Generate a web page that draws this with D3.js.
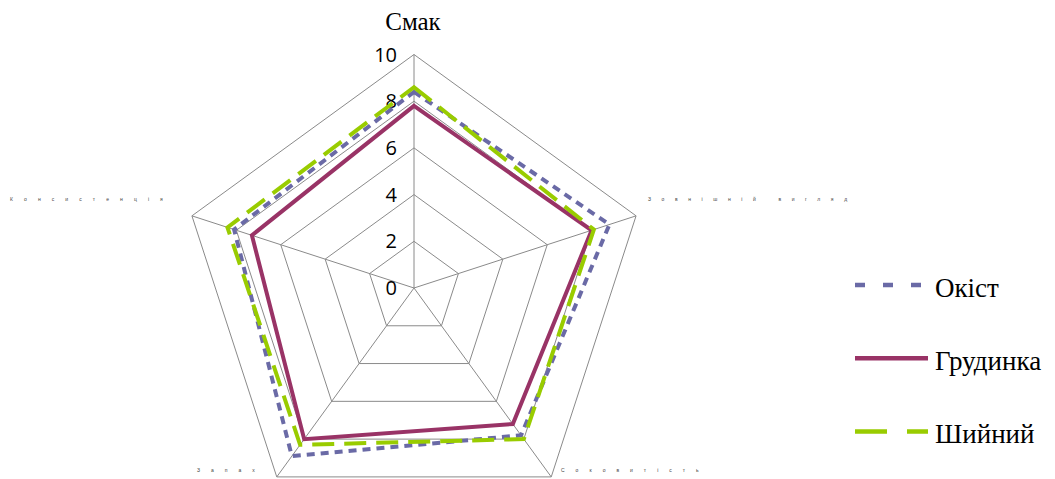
<!DOCTYPE html>
<html>
<head>
<meta charset="utf-8">
<script src="https://cdn.jsdelivr.net/npm/d3@7"></script>
<style>
  html, body { margin: 0; padding: 0; background: #fff; }
  svg { display: block; }
</style>
</head>
<body>
<svg id="chart" width="1055" height="479"></svg>
<script>
// Sensory scores for three pork cuts
const axes = ["Смак", "Зовнішній вигляд", "Соковитість", "Запах", "Консистенція"];
const okist = [8.4, 8.8, 7.8, 8.9, 8.1];
const grudynka = [7.8, 8.0, 7.2, 8.0, 7.3];
const shyinyi = [8.6, 8.1, 8.0, 8.3, 8.4];
const seriesNames = ["Окіст", "Грудинка", "Шийний"];
const tickValues = [0, 2, 4, 6, 8, 10];

const series = [
  { name: seriesNames[0], values: okist, color: "#6a6aa6", dash: "8,6", legendDash: "10,18" },
  { name: seriesNames[1], values: grudynka, color: "#993366", dash: null, legendDash: null },
  { name: seriesNames[2], values: shyinyi, color: "#99cc00", dash: "22,10", legendDash: "32,20" }
];

const svg = d3.select("#chart");
const cx = 414, cy = 288;
const r = d3.scaleLinear().domain([0, 10]).range([0, 233.5]);
const angle = d3.scaleLinear().domain([0, axes.length]).range([0, 2 * Math.PI]);

const pt = (i, v) => {
  const a = angle(i);
  return [cx + r(v) * Math.sin(a), cy - r(v) * Math.cos(a)];
};

// Grid rings
const grid = svg.append("g");
tickValues.filter(t => t > 0).forEach(t => {
  grid.append("path")
    .attr("d", d3.line()(axes.map((_, i) => pt(i, t))) + "Z")
    .attr("fill", "none").attr("stroke", "#8a8a8a").attr("stroke-width", 1);
});
// Spokes
axes.forEach((_, i) => {
  const [x, y] = pt(i, 10);
  grid.append("line").attr("x1", cx).attr("y1", cy).attr("x2", x).attr("y2", y)
    .attr("stroke", "#8a8a8a").attr("stroke-width", 1);
});

// Tick labels along the top spoke
svg.append("g").selectAll("text").data(tickValues).join("text")
  .attr("x", cx - 17).attr("y", d => cy - r(d) + 7)
  .attr("text-anchor", "end")
  .attr("font-family", "Open Sans, Liberation Sans, sans-serif")
  .attr("font-size", 20).attr("fill", "#000")
  .text(d => d);

// Series polygons
const lineGen = d3.line();
series.forEach(s => {
  svg.append("path")
    .attr("d", lineGen(s.values.map((v, i) => pt(i, v))) + "Z")
    .attr("fill", "none").attr("stroke", s.color).attr("stroke-width", 4)
    .attr("stroke-linejoin", "miter")
    .attr("stroke-dasharray", s.dash);
});

// Axis labels
svg.append("text").attr("x", 413).attr("y", 30).attr("text-anchor", "middle")
  .attr("font-family", "Liberation Serif, Times New Roman, serif").attr("font-size", 25)
  .text(axes[0]);

const small = [
  { t: axes[1], x: 648, y: 201, ls: 10.6 },
  { t: axes[2], x: 561, y: 472, ls: 11 },
  { t: axes[3], x: 197, y: 472, ls: 11 },
  { t: axes[4], x: 10, y: 201, ls: 11.1 }
];
svg.append("g").selectAll("text").data(small).join("text")
  .attr("x", d => d.x).attr("y", d => d.y)
  .attr("font-family", "Liberation Sans, sans-serif").attr("font-size", 5)
  .attr("letter-spacing", d => d.ls)
  .attr("fill", "#444")
  .text(d => d.t);

// Legend
const legend = svg.append("g");
series.forEach((s, i) => {
  const y = 285 + i * 73.3;
  legend.append("line").attr("x1", 855).attr("x2", 928).attr("y1", y).attr("y2", y)
    .attr("stroke", s.color).attr("stroke-width", 4.5).attr("stroke-dasharray", s.legendDash);
  legend.append("text").attr("x", 935).attr("y", y + 11.5)
    .attr("font-family", "Liberation Serif, Times New Roman, serif").attr("font-size", 27)
    .text(s.name);
});
</script>
</body>
</html>
